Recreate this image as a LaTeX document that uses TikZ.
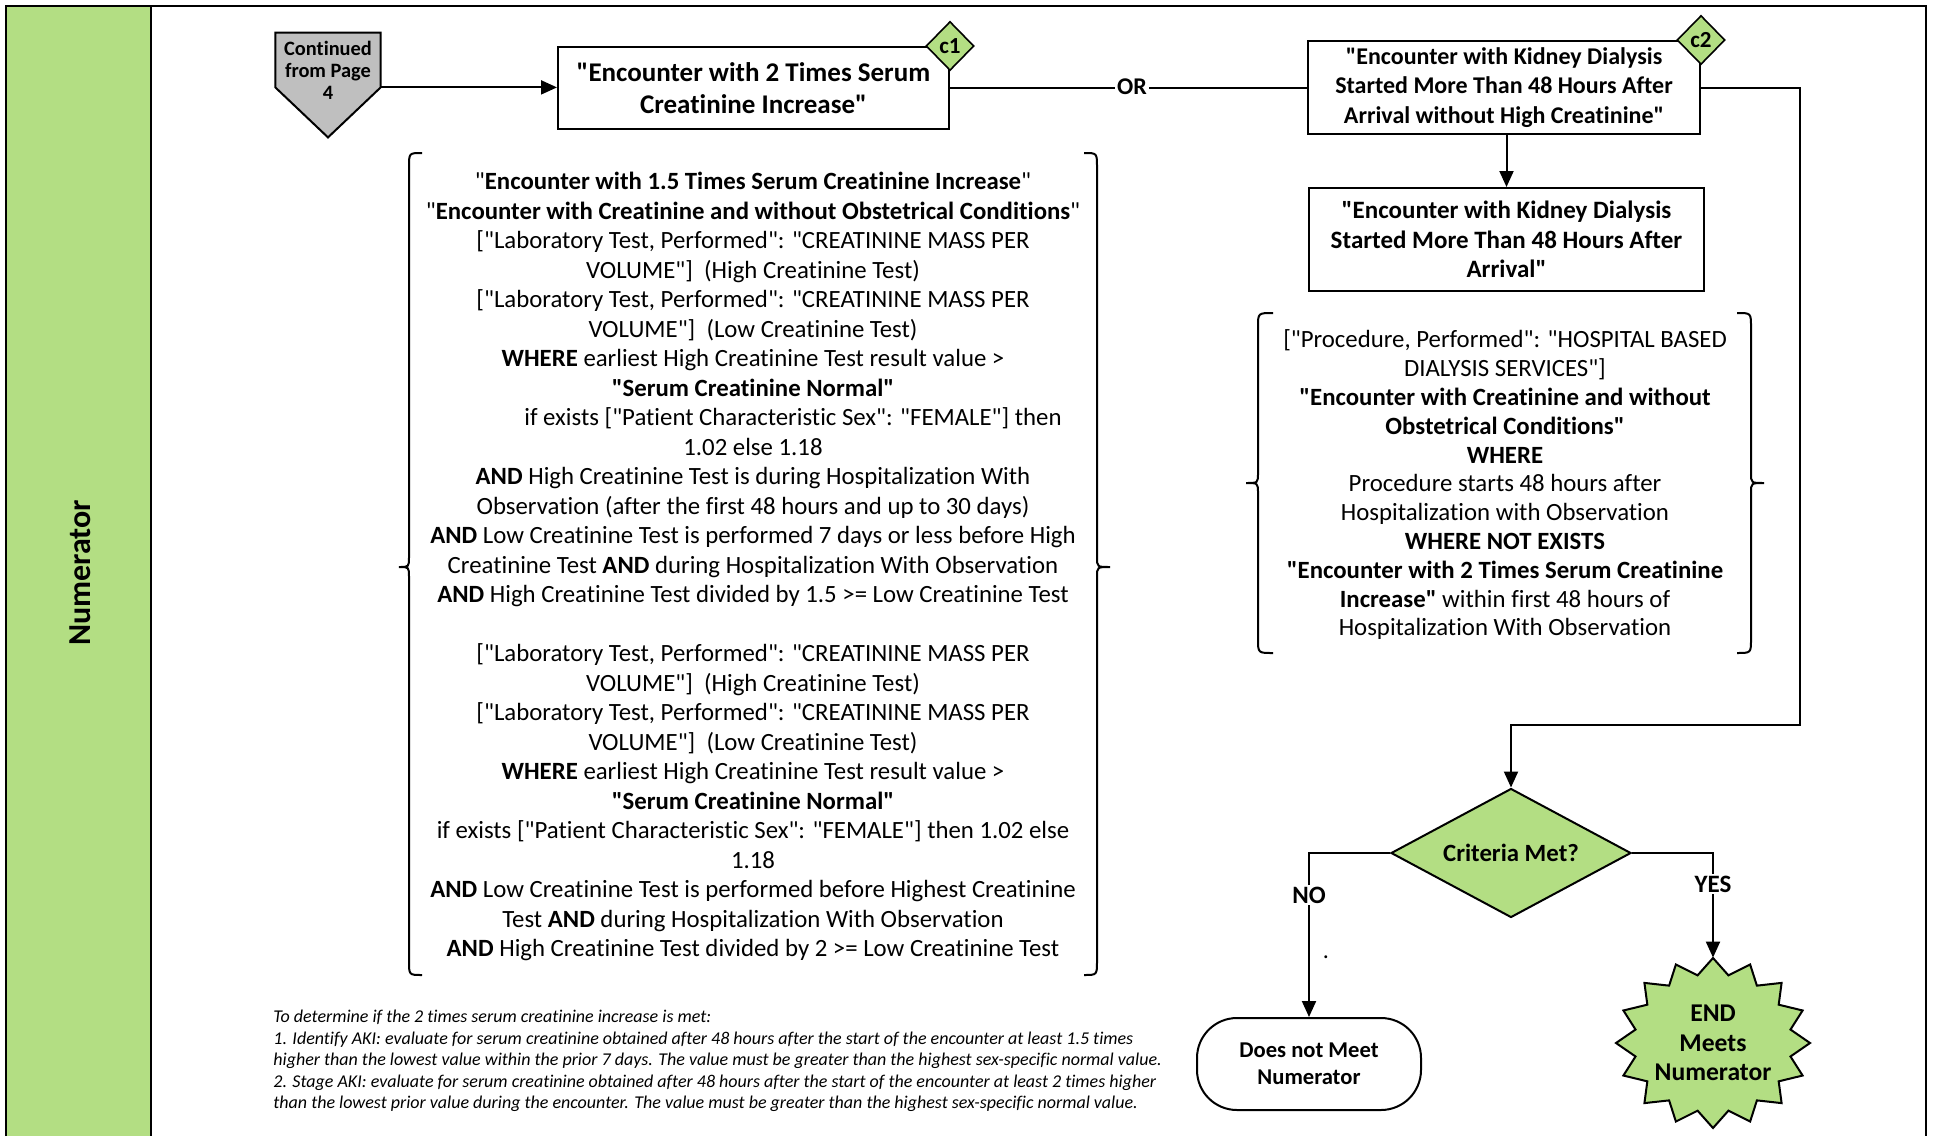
\documentclass[tikz,border=0pt]{standalone}
\usepackage{fontspec}
\setmainfont{Carlito}[Ligatures={TeXOff,CommonOff}]
\usetikzlibrary{shapes.geometric,arrows.meta,calc}
\definecolor{lgreen}{RGB}{179,222,131}
\definecolor{cgray}{RGB}{191,191,191}
\begin{document}
\begin{tikzpicture}[x=0.5pt,y=-0.5pt,
  every node/.style={font=\fontsize{12}{14.75}\selectfont},
  proc/.style={draw, line width=1pt, fill=white, align=center, inner sep=0pt, font=\fontsize{12.5}{14.75}\selectfont\bfseries},
  tag/.style={draw, diamond, fill=lgreen, line width=0.8pt, minimum width=24pt, minimum height=24.5pt, inner sep=0pt, aspect=1, font=\fontsize{11.5}{12}\selectfont\bfseries},
  conn/.style={line width=1pt, -{Triangle[length=8pt,width=7pt]}},
  plain/.style={line width=1pt},
  brc/.style={line width=1pt},
  lbl/.style={fill=white, inner sep=1pt, font=\fontsize{12.5}{14}\selectfont\bfseries},
  body/.style={align=center, inner sep=0pt, font=\fontsize{12.4}{14.75}\selectfont}
]
\useasboundingbox (0,0) rectangle (1933,1136);
% frame and lane
\fill[lgreen] (6,6) rectangle (151,1136);
\draw[line width=1.2pt] (6,1136) -- (6,6) -- (1926,6) -- (1926,1136);
\draw[line width=1.2pt] (151,6) -- (151,1136);
\node[rotate=90, font=\fontsize{16}{18}\selectfont\bfseries] (lane) at (80,573) {Numerator};

% off-page connector
\node[minimum width=52.25pt, minimum height=27pt, inner sep=0pt] (contbox) at (328,60) {};
\draw[line width=1pt, fill=cgray] (contbox.north west) -- (contbox.north east) -- (contbox.south east) -- ($(contbox.south)+(0,50)$) -- (contbox.south west) -- cycle;
\node[align=center, font=\fontsize{10.2}{11}\selectfont\bfseries] (conttxt) at (328,70) {Continued\\from Page\\4};

% boxes
\node[proc, minimum width=195.5pt, minimum height=41pt, font=\fontsize{13.5}{16}\selectfont\bfseries] (box1) at (753.5,88) {"Encounter with 2 Times Serum\\Creatinine Increase"};
\node[tag] (c1) at (box1.north east) {c1};
\node[proc, minimum width=196pt, minimum height=46.5pt, font=\fontsize{12}{14.75}\selectfont\bfseries] (box2) at (1504,87.5) {"Encounter with Kidney Dialysis\\Started More Than 48 Hours After\\Arrival without High Creatinine"};
\node[tag] (c2) at (box2.north east) {c2};
\node[proc, minimum width=197.5pt, minimum height=51.5pt] (box3) at (1506.5,239.5) {"Encounter with Kidney Dialysis\\Started More Than 48 Hours After\\Arrival"};

% connectors top
\draw[conn] (contbox.south east) -- (contbox.south east -| box1.west);
\draw[plain] (box1.east) -- (box1.east -| box2.west);
\node[lbl, font=\fontsize{12}{14}\selectfont\bfseries] (or) at (1132,87) {OR};
\draw[conn] (box2.south -| box3.north) -- (box3.north);

% left text block
\node[body] (blockA) at (753,566.5) {%
"\textbf{Encounter with 1.5 Times Serum Creatinine Increase}"\\
"\textbf{Encounter with Creatinine and without Obstetrical Conditions}"\\{}%
["Laboratory Test, Performed": "CREATININE MASS PER\\
VOLUME"]\ \ (High Creatinine Test)\\{}%
["Laboratory Test, Performed": "CREATININE MASS PER\\
VOLUME"]\ \ (Low Creatinine Test)\\
\textbf{WHERE} earliest High Creatinine Test result value >\\
\textbf{"Serum Creatinine Normal"}\\
\hspace*{40pt}if exists ["Patient Characteristic Sex": "FEMALE"] then\\
1.02 else 1.18\\
\textbf{AND} High Creatinine Test is during Hospitalization With\\
Observation (after the first 48 hours and up to 30 days)\\
\textbf{AND} Low Creatinine Test is performed 7 days or less before High\\
Creatinine Test \textbf{AND} during Hospitalization With Observation\\
\textbf{AND} High Creatinine Test divided by 1.5 >= Low Creatinine Test\\[14.75pt]{}%
["Laboratory Test, Performed": "CREATININE MASS PER\\
VOLUME"]\ \ (High Creatinine Test)\\{}%
["Laboratory Test, Performed": "CREATININE MASS PER\\
VOLUME"]\ \ (Low Creatinine Test)\\
\textbf{WHERE} earliest High Creatinine Test result value >\\
\textbf{"Serum Creatinine Normal"}\\
if exists ["Patient Characteristic Sex": "FEMALE"] then 1.02 else\\
1.18\\
\textbf{AND} Low Creatinine Test is performed before Highest Creatinine\\
Test \textbf{AND} during Hospitalization With Observation\\
\textbf{AND} High Creatinine Test divided by 2 >= Low Creatinine Test};

% braces left block
\draw[brc] (422,153) .. controls (409,153) .. (409,167) -- (409,557) .. controls (409,567) .. (399,567) .. controls (409,567) .. (409,577) -- (409,961) .. controls (409,975) .. (422,975);
\draw[brc] (1084,153) .. controls (1097,153) .. (1097,167) -- (1097,557) .. controls (1097,567) .. (1110,567) .. controls (1097,567) .. (1097,577) -- (1097,961) .. controls (1097,975) .. (1084,975);

% right text block
\node[body, font=\fontsize{12.4}{14.4}\selectfont] (blockB) at (1505,485) {%
["Procedure, Performed": "HOSPITAL BASED\\
DIALYSIS SERVICES"]\\
\textbf{"Encounter with Creatinine and without}\\
\textbf{Obstetrical Conditions"}\\
\textbf{WHERE}\\
Procedure starts 48 hours after\\
Hospitalization with Observation\\
\textbf{WHERE NOT EXISTS}\\
\textbf{"Encounter with 2 Times Serum Creatinine}\\
\textbf{Increase"} within first 48 hours of\\
Hospitalization With Observation};
\draw[brc] (1273,313) .. controls (1258,313) .. (1258,327) -- (1258,473) .. controls (1258,483) .. (1246,483) .. controls (1258,483) .. (1258,493) -- (1258,639) .. controls (1258,653) .. (1273,653);
\draw[brc] (1737,313) .. controls (1751,313) .. (1751,327) -- (1751,473) .. controls (1751,483) .. (1764,483) .. controls (1751,483) .. (1751,493) -- (1751,639) .. controls (1751,653) .. (1737,653);

% decision
\node[draw, diamond, fill=lgreen, line width=1pt, minimum width=120pt, minimum height=64.5pt, inner sep=0pt, aspect=1.86, font=\fontsize{12.4}{14}\selectfont\bfseries] (crit) at (1511,853) {Criteria Met?};
\coordinate (rr) at (1800,725);
\draw[conn] (box2.east) -| (rr) -| (crit.north);

% outcomes
\node[draw, line width=1pt, rounded corners=20pt, minimum width=112pt, minimum height=46pt, align=center, inner sep=0pt, font=\fontsize{11.3}{13.5}\selectfont\bfseries] (nobox) at (1309,1064) {Does not Meet\\Numerator};
\node[ellipse, minimum width=97pt, minimum height=85pt, inner sep=0pt] (star) at (1713,1043) {};
\draw[line width=1pt, fill=lgreen] ({1713+97*cos(90)},{1043-85*sin(90)})
  \foreach \i in {1,...,31}{ -- ({1713+(mod(\i,2)==0 ? 97 : 79)*cos(90+\i*11.25)},{1043-(mod(\i,2)==0 ? 85 : 69)*sin(90+\i*11.25)}) } -- cycle;
\node[align=center, font=\fontsize{12.8}{14.75}\selectfont\bfseries] (endtxt) at (1713,1043) {END\\Meets\\Numerator};

\draw[conn] (crit.west) -| (nobox.north);
\draw[conn] (crit.east) -| (star.north);
\node[lbl] (nolbl) at (1309,895) {NO};
\node[lbl] (yeslbl) at (1713,884) {YES};
\node[inner sep=0pt, font=\fontsize{12}{12}\selectfont] (dot) at (1326,957) {.};

% footnote
\node[anchor=west, align=left, inner sep=0pt, font=\fontsize{9}{10.75}\selectfont\itshape] (note) at (273,1061) {%
To determine if the 2 times serum creatinine increase is met:\\
1. Identify AKI: evaluate for serum creatinine obtained after 48 hours after the start of the encounter at least 1.5 times\\
higher than the lowest value within the prior 7 days. The value must be greater than the highest sex-specific normal value.\\
2. Stage AKI: evaluate for serum creatinine obtained after 48 hours after the start of the encounter at least 2 times higher\\
than the lowest prior value during the encounter. The value must be greater than the highest sex-specific normal value.};
\end{tikzpicture}
\end{document}
